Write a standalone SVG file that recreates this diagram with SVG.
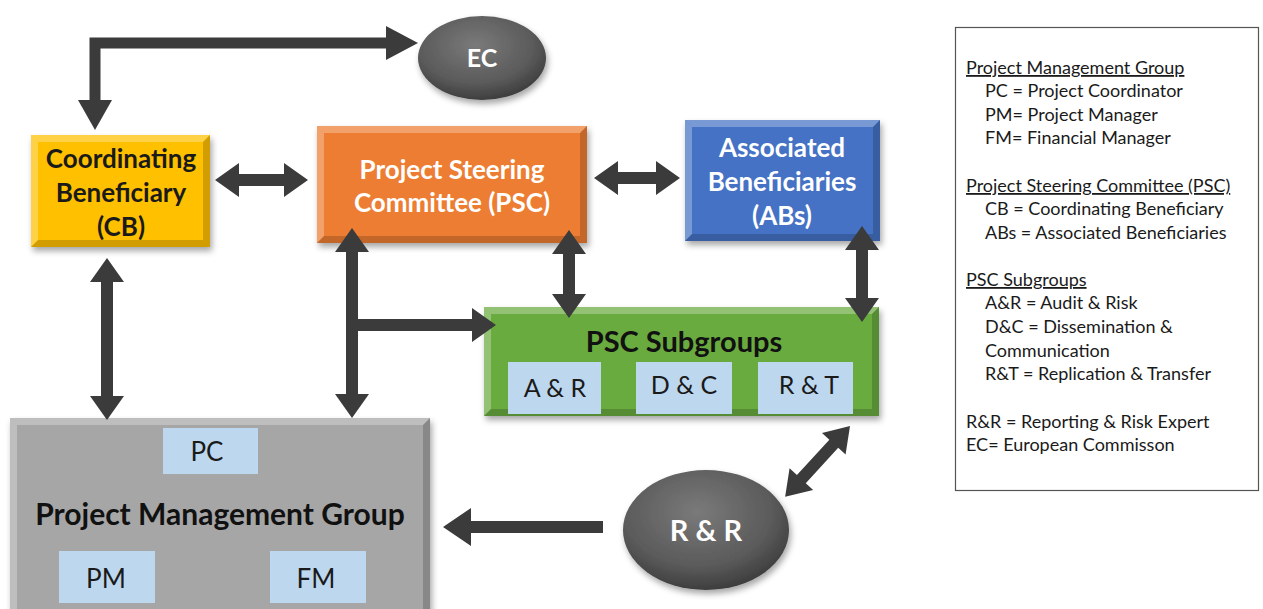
<svg xmlns="http://www.w3.org/2000/svg" width="1263" height="609" viewBox="0 0 1263 609">
<defs>
<style>
.t{font-family:Lato,"Open Sans","Liberation Sans",sans-serif;font-weight:bold;text-anchor:middle}
.s{font-family:Lato,"Open Sans","Liberation Sans",sans-serif;text-anchor:middle;fill:#1a1a1a}
.lg{font-family:Lato,"Open Sans","Liberation Sans",sans-serif;font-size:18px;fill:#1a1a1a}
.arr{fill:#3b3b3b}
.hl{fill:#ffffff;opacity:.28}
.dk{fill:#000000;opacity:.18}
.sub{fill:#bdd7ee}
</style>
<filter id="sh" x="-10%" y="-10%" width="125%" height="130%">
<feDropShadow dx="2" dy="4" stdDeviation="3" flood-color="#000" flood-opacity="0.35"/>
</filter>
<radialGradient id="gr" cx="45%" cy="35%" r="65%">
<stop offset="0" stop-color="#7a7a7a"/>
<stop offset="0.7" stop-color="#5a5a5a"/>
<stop offset="1" stop-color="#3e3e3e"/>
</radialGradient>
</defs>
<rect width="1263" height="609" fill="#ffffff"/>

<g id="ec">
<ellipse cx="482" cy="58" rx="64" ry="42" fill="url(#gr)" filter="url(#sh)"/>
<text class="t" x="482" y="67" font-size="25" fill="#ffffff">EC</text>
</g>

<g id="cb">
<rect x="31" y="135" width="179" height="112" fill="#ffc000" filter="url(#sh)"/>
<polygon class="hl" points="31,135 210,135 203,142 38,142"/>
<polygon class="hl" points="31,135 38,142 38,240 31,247" opacity=".15"/>
<polygon class="dk" points="31,247 210,247 203,240 38,240"/>
<polygon class="dk" points="210,135 210,247 203,240 203,142" opacity=".1"/>
<text class="t" font-size="26" fill="#1a1a1a"><tspan x="121" y="168">Coordinating</tspan><tspan x="121" y="202">Beneficiary</tspan><tspan x="121" y="236">(CB)</tspan></text>
</g>

<g id="psc">
<rect x="317" y="126" width="270" height="117" fill="#ed7d31" filter="url(#sh)"/>
<polygon class="hl" points="317,126 587,126 580,133 324,133"/>
<polygon class="hl" points="317,126 324,133 324,236 317,243" opacity=".15"/>
<polygon class="dk" points="317,243 587,243 580,236 324,236"/>
<polygon class="dk" points="587,126 587,243 580,236 580,133" opacity=".1"/>
<text class="t" font-size="26" fill="#ffffff"><tspan x="452" y="179">Project Steering</tspan><tspan x="452" y="212">Committee (PSC)</tspan></text>
</g>

<g id="ab">
<rect x="685" y="120" width="195" height="121" fill="#4472c4" filter="url(#sh)"/>
<polygon class="hl" points="685,120 880,120 873,127 692,127"/>
<polygon class="hl" points="685,120 692,127 692,234 685,241" opacity=".15"/>
<polygon class="dk" points="685,241 880,241 873,234 692,234"/>
<polygon class="dk" points="880,120 880,241 873,234 873,127" opacity=".1"/>
<text class="t" font-size="26" fill="#ffffff"><tspan x="782" y="157">Associated</tspan><tspan x="782" y="191">Beneficiaries</tspan><tspan x="782" y="225">(ABs)</tspan></text>
</g>

<g id="subgroups">
<rect x="484" y="307" width="395" height="109" fill="#6aab3f" filter="url(#sh)"/>
<polygon class="hl" points="484,307 879,307 872,314 491,314"/>
<polygon class="hl" points="484,307 491,314 491,409 484,416" opacity=".15"/>
<polygon class="dk" points="484,416 879,416 872,409 491,409"/>
<polygon class="dk" points="879,307 879,416 872,409 872,314" opacity=".1"/>
<text class="t" x="684" y="352" font-size="29" fill="#111111">PSC Subgroups</text>
<rect class="sub" x="508" y="362" width="93" height="52"/>
<rect class="sub" x="636" y="362" width="96" height="52"/>
<rect class="sub" x="758" y="362" width="95" height="52"/>
<text class="s" x="555" y="397" font-size="25">A &amp; R</text>
<text class="s" x="684" y="394" font-size="25">D &amp; C</text>
<text class="s" x="809" y="394" font-size="25">R &amp; T</text>
</g>

<g id="pmg">
<rect x="10" y="418" width="420" height="200" fill="#a6a6a6" filter="url(#sh)"/>
<polygon class="hl" points="10,418 430,418 423,425 17,425"/>
<polygon class="hl" points="10,418 17,425 17,609 10,609" opacity=".15"/>
<polygon class="dk" points="430,418 430,609 423,609 423,425" opacity=".1"/>
<rect class="sub" x="163" y="428" width="95" height="46"/>
<rect class="sub" x="59" y="551" width="96" height="52"/>
<rect class="sub" x="270" y="551" width="96" height="52"/>
<text class="s" x="207" y="461" font-size="26">PC</text>
<text class="t" x="220" y="525" font-size="30" fill="#111111">Project Management Group</text>
<text class="s" x="106" y="588" font-size="26">PM</text>
<text class="s" x="316" y="588" font-size="26">FM</text>
</g>

<g id="rr">
<ellipse cx="706" cy="530" rx="83" ry="60" fill="url(#gr)" filter="url(#sh)"/>
<text class="t" x="706" y="541" font-size="29" fill="#ffffff">R &amp; R</text>
</g>

<g id="legend">
<rect x="955.5" y="27.5" width="303" height="463" fill="#ffffff" stroke="#555555" stroke-width="1.2"/>
<text class="lg"><tspan x="966" y="74" text-decoration="underline">Project Management Group</tspan>
<tspan x="985" y="97">PC = Project Coordinator</tspan>
<tspan x="985" y="121">PM= Project Manager</tspan>
<tspan x="985" y="144">FM= Financial Manager</tspan>
<tspan x="966" y="192" text-decoration="underline">Project Steering Committee (PSC)</tspan>
<tspan x="985" y="215">CB = Coordinating Beneficiary</tspan>
<tspan x="985" y="239">ABs = Associated Beneficiaries</tspan>
<tspan x="966" y="286" text-decoration="underline">PSC Subgroups</tspan>
<tspan x="985" y="309">A&amp;R = Audit &amp; Risk</tspan>
<tspan x="985" y="333">D&amp;C = Dissemination &amp;</tspan>
<tspan x="985" y="357">Communication</tspan>
<tspan x="985" y="380">R&amp;T = Replication &amp; Transfer</tspan>
<tspan x="966" y="428">R&amp;R = Reporting &amp; Risk Expert</tspan>
<tspan x="966" y="451">EC= European Commisson</tspan></text>
</g>

<g id="connectors">
<path d="M95,102 V43 H388" fill="none" stroke="#3b3b3b" stroke-width="11"/>
<polygon class="arr" points="78,100 112,100 95,130"/>
<polygon class="arr" points="386,26 386,60 418,43"/>
<polygon class="arr" points="215,180 239,163 239,174 284,174 284,163 308,180 284,197 284,186 239,186 239,197"/>
<polygon class="arr" points="594,178 618,161 618,172 656,172 656,161 680,178 656,195 656,184 618,184 618,195"/>
<polygon class="arr" points="107,258 124,282 113,282 113,396 124,396 107,420 90,396 101,396 101,282 90,282"/>
<polygon class="arr" points="352,228 369,252 358,252 358,394 369,394 352,418 335,394 346,394 346,252 335,252"/>
<polygon class="arr" points="358,319 472,319 472,308 496,325 472,342 472,331 358,331"/>
<polygon class="arr" points="569,230 586,254 575,254 575,294 586,294 569,318 552,294 563,294 563,254 552,254"/>
<polygon class="arr" points="862,226 879,250 868,250 868,298 879,298 862,322 845,298 856,298 856,250 845,250"/>
<polygon class="arr" points="603,521 471,521 471,508 443,527 471,546 471,533 603,533"/>
<polygon class="arr" transform="translate(850,426) rotate(132.5)" points="0,0 24,-16 24,-6 72,-6 72,-16 96,0 72,16 72,6 24,6 24,16"/>
</g>
</svg>
